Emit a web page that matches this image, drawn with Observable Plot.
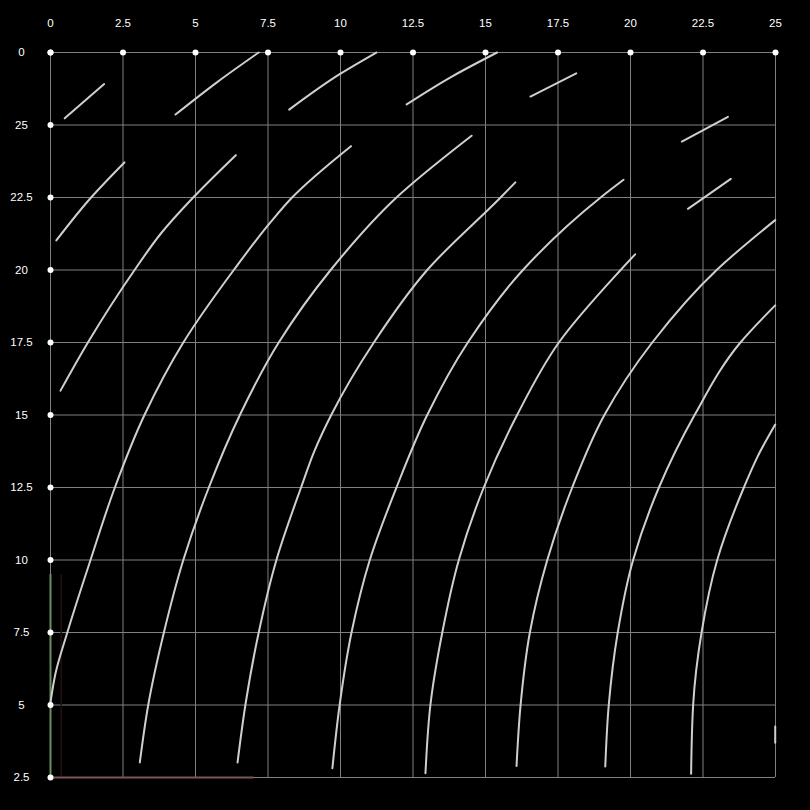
<!DOCTYPE html>
<html>
<head>
<meta charset="utf-8">
<script src="https://cdn.jsdelivr.net/npm/d3@7"></script>
<script src="https://cdn.jsdelivr.net/npm/@observablehq/plot@0.6"></script>
<style>
  html, body { margin: 0; padding: 0; background: #000; }
  #chart svg { display: block; }
</style>
</head>
<body>
<div id="chart"></div>
<script>
// Tick values and labels
const xTicks = [0, 2.5, 5, 7.5, 10, 12.5, 15, 17.5, 20, 22.5, 25];
const xTickLabels = ["0", "2.5", "5", "7.5", "10", "12.5", "15", "17.5", "20", "22.5", "25"];
const yTicks = [2.5, 5, 7.5, 10, 12.5, 15, 17.5, 20, 22.5, 25, 27.5];
const yTickLabels = ["2.5", "5", "7.5", "10", "12.5", "15", "17.5", "20", "22.5", "25", "0"];

// Axis helper segments [x1, y1, x2, y2]
const axisRed = [0, 2.5, 7, 2.5];
const axisGreen = [0, 2.5, 0, 9.52];
const axisDim = [0.37, 2.5, 0.37, 9.52];

// Curves as [x, y] points
const seg1 = [[0.49, 25.23], [1.85, 26.41]];
const seg2 = [[4.31, 25.36], [5.75, 26.48], [7.18, 27.5]];
const seg3 = [[8.23, 25.53], [10.0, 26.77], [11.24, 27.5]];
const seg4 = [[12.28, 25.71], [13.84, 26.67], [15.40, 27.5]];
const seg5 = [[16.55, 25.98], [18.13, 26.78]];
const seg6 = [[21.77, 24.43], [23.36, 25.28]];
const seg7 = [[21.98, 22.11], [23.46, 23.14]];
const seg8 = [[0.20, 21.02], [1.40, 22.5], [2.55, 23.71]];
const seg9 = [[24.99, 3.70], [24.99, 4.26]];
const curve1 = [[0.345, 15.84], [1.29, 17.5], [2.90, 20], [3.80, 21.25], [4.92, 22.5], [6.39, 23.96]];
const curve2 = [[0, 5.09], [0.17, 6.08], [0.58, 7.5], [1.38, 10], [2.22, 12.5], [3.24, 15], [4.58, 17.5], [6.32, 20], [7.59, 21.65], [8.33, 22.5], [10.36, 24.27]];
const curve3 = [[3.08, 3.02], [3.37, 5], [3.91, 7.5], [4.58, 10], [5.46, 12.5], [6.53, 15], [7.87, 17.5], [9.66, 20], [11.93, 22.5], [14.52, 24.63]];
const curve4 = [[6.45, 3.02], [6.72, 5], [7.18, 7.5], [7.79, 10], [8.64, 12.5], [9.11, 13.78], [9.68, 15], [11.15, 17.5], [12.99, 20], [15.52, 22.5], [16.03, 23.02]];
const curve5 = [[9.72, 2.82], [9.97, 5], [10.38, 7.5], [11.01, 10], [11.93, 12.5], [12.99, 15], [14.39, 17.5], [16.29, 20], [18.97, 22.5], [19.76, 23.11]];
const curve6 = [[12.93, 2.65], [13.10, 5], [13.51, 7.5], [14.08, 10], [14.94, 12.5], [16.09, 15], [17.53, 17.5], [19.66, 20], [20.16, 20.54]];
const curve7 = [[16.07, 2.90], [16.21, 5], [16.53, 7.5], [17.13, 10], [17.99, 12.5], [19.10, 15], [20.75, 17.5], [22.97, 20], [24.99, 21.72]];
const curve8 = [[19.13, 2.88], [19.25, 5], [19.56, 7.5], [20.09, 10], [20.98, 12.5], [22.21, 15], [23.79, 17.5], [24.99, 18.78]];
const curve9 = [[22.09, 2.63], [22.16, 5], [22.45, 7.5], [22.99, 10], [23.91, 12.5], [24.37, 13.54], [24.99, 14.67]];

const allCurves = [seg1, seg2, seg3, seg4, seg5, seg6, seg7, seg8, seg9,
  curve1, curve2, curve3, curve4, curve5, curve6, curve7, curve8, curve9];
const lineData = allCurves.flatMap((c, i) => c.map(([x, y]) => ({id: i, x, y})));

const font = "'Liberation Sans', Arial, sans-serif";

const chart = Plot.plot({
  width: 810,
  height: 810,
  marginLeft: 50,
  marginRight: 35,
  marginTop: 52,
  marginBottom: 33,
  style: {background: "#000", fontFamily: font},
  x: {domain: [0, 25], axis: null},
  y: {domain: [2.5, 27.5], axis: null},
  marks: [
    Plot.ruleX(xTicks, {x: d => d, y1: 2.5, y2: 27.5, stroke: "#808080", strokeWidth: 1}),
    Plot.ruleY(yTicks, {y: d => d, x1: 0, x2: 25, stroke: "#808080", strokeWidth: 1}),
    Plot.link([axisDim], {x1: d => d[0], y1: d => d[1], x2: d => d[2], y2: d => d[3], stroke: "#241010", strokeWidth: 1.5}),
    Plot.link([axisRed], {x1: d => d[0], y1: d => d[1], x2: d => d[2], y2: d => d[3], stroke: "#7d5656", strokeWidth: 2}),
    Plot.link([axisGreen], {x1: d => d[0], y1: d => d[1], x2: d => d[2], y2: d => d[3], stroke: "#6b8f5e", strokeWidth: 2}),
    Plot.line(lineData, {x: "x", y: "y", z: "id", stroke: "#cfcfcf", strokeWidth: 2, curve: "monotone-y"}),
    Plot.dot(xTicks, {x: d => d, y: 27.5, r: 3, fill: "#fff", stroke: "none"}),
    Plot.dot(yTicks, {x: 0, y: d => d, r: 3, fill: "#fff", stroke: "none"}),
    Plot.text(xTicks, {x: d => d, y: 27.5, dy: -29, text: (d, i) => xTickLabels[i], fill: "#fff", fontSize: 11.5, textAnchor: "middle"}),
    Plot.text(yTicks, {x: 0, y: d => d, dx: -29, text: (d, i) => yTickLabels[i], fill: "#fff", fontSize: 11.5, textAnchor: "middle"})
  ]
});
document.getElementById("chart").appendChild(chart);
</script>
</body>
</html>
